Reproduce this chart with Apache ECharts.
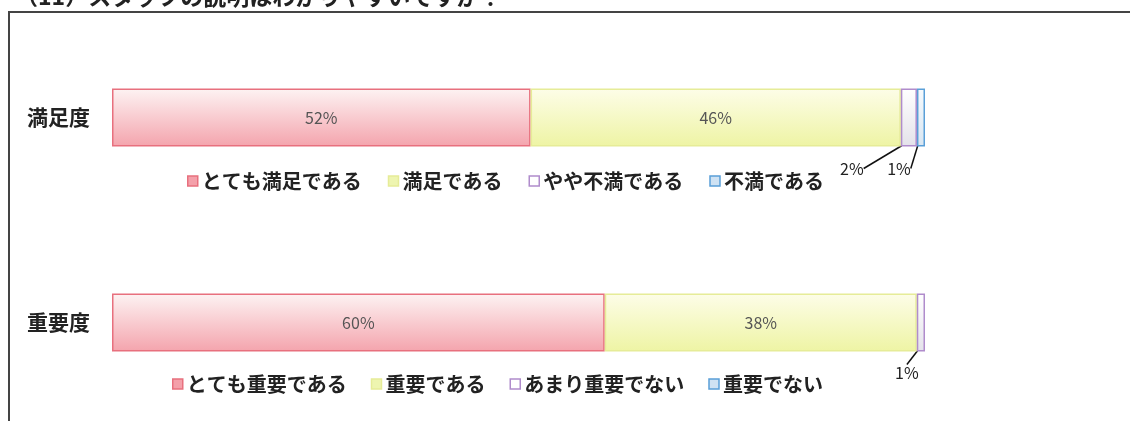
<!DOCTYPE html>
<html>
<head>
<meta charset="utf-8">
<script src="https://cdn.jsdelivr.net/npm/echarts@6/dist/echarts.min.js"></script>
<style>
  html, body { margin: 0; padding: 0; background: #fff; }
  #chart { width: 1130px; height: 421px; }
</style>
</head>
<body>
<div id="chart"></div>
<script>
  // data
  var title = '（11）スタッフの説明はわかりやすいですか？';
  var categories = ['満足度', '重要度'];
  var satNames = ['とても満足である', '満足である', 'やや不満である', '不満である'];
  var satValues = [52, 46, 2, 1];
  var impNames = ['とても重要である', '重要である', 'あまり重要でない', '重要でない'];
  var impValues = [60, 38, 1, 0];

  var font = '"Noto Sans CJK JP", sans-serif';

  // fills, borders and legend icons for the four answer levels
  function grad(top, bottom) {
    return { type: 'linear', x: 0, y: 0, x2: 0, y2: 1,
      colorStops: [{ offset: 0, color: top }, { offset: 1, color: bottom }] };
  }
  var styles = [
    { fill: grad('#fdf3f3', '#f4a4ad'), border: '#e8707e', icon: '#f4a0aa' },
    { fill: grad('#fdfde8', '#eef4a4'), border: '#e6ec98', icon: '#eef5b0' },
    { fill: grad('#ffffff', '#e4e2ea'), border: '#b08ccc', icon: '#ffffff' },
    { fill: grad('#f6fafd', '#d8e6f2'), border: '#5a9fd8', icon: '#cfe2f3' }
  ];
  // where the small outside labels go (moved from the segment centre)
  var outside = [
    [null, null, { dx: -57, dy: 51 }, { dx: -22, dy: 51 }],
    [null, null, { dx: -14, dy: 50 }, null]
  ];

  var groups = [
    { names: satNames, values: satValues, top: 88, legendTop: 166, legendLeft: 182, gap: 26 },
    { names: impNames, values: impValues, top: 293, legendTop: 369, legendLeft: 167, gap: 24 }
  ];

  var grids = [], xAxes = [], yAxes = [], legends = [], series = [];
  groups.forEach(function (g, gi) {
    var total = g.values.reduce(function (a, b) { return a + b; }, 0);
    grids.push({ left: 112, right: 205, top: g.top, height: 59 });
    xAxes.push({ type: 'value', gridIndex: gi, min: 0, max: total, show: false });
    yAxes.push({
      type: 'category', gridIndex: gi, data: [categories[gi]],
      axisLine: { show: false }, axisTick: { show: false },
      axisLabel: { fontFamily: font, fontSize: 21, fontWeight: 'bold', color: '#222', margin: 22 }
    });
    legends.push({
      left: g.legendLeft, top: g.legendTop, itemWidth: 10, itemHeight: 10, itemGap: g.gap,
      textStyle: { fontFamily: font, fontSize: 20, fontWeight: 'bold', color: '#222', padding: [0, 0, 0, -1] },
      data: g.names.map(function (n, i) {
        return { name: n, icon: 'rect',
          itemStyle: { color: styles[i].icon, borderColor: styles[i].border, borderWidth: 1.5 } };
      })
    });
    g.names.forEach(function (n, i) {
      var off = outside[gi][i];
      var v = g.values[i];
      var s = {
        type: 'bar', name: n, xAxisIndex: gi, yAxisIndex: gi, stack: 'g' + gi,
        barWidth: 58, data: [v],
        itemStyle: { color: styles[i].fill, borderColor: styles[i].border, borderWidth: v > 0 ? 1.5 : 0 },
        label: {
          show: v > 0, position: 'inside', formatter: '{c}%',
          fontFamily: font, fontSize: 16, color: '#555'
        }
      };
      if (off) {
        s.label.color = '#222';
        s.labelLayout = { dx: off.dx, dy: off.dy };
        s.labelLine = { show: true, lineStyle: { color: '#111', width: 1.5 } };
      }
      series.push(s);
    });
  });

  var chart = echarts.init(document.getElementById('chart'));
  chart.setOption({
    backgroundColor: '#fff',
    animation: false,
    graphic: [
      { type: 'rect', shape: { x: 9, y: 12, width: 1200, height: 500 },
        style: { fill: 'none', stroke: '#444', lineWidth: 2 } },
      { type: 'text', left: 15, top: -15,
        style: { text: title, fontFamily: font, fontSize: 23, fontWeight: 'bold', fill: '#222' } }
    ],
    grid: grids,
    xAxis: xAxes,
    yAxis: yAxes,
    legend: legends,
    series: series
  });
</script>
</body>
</html>
